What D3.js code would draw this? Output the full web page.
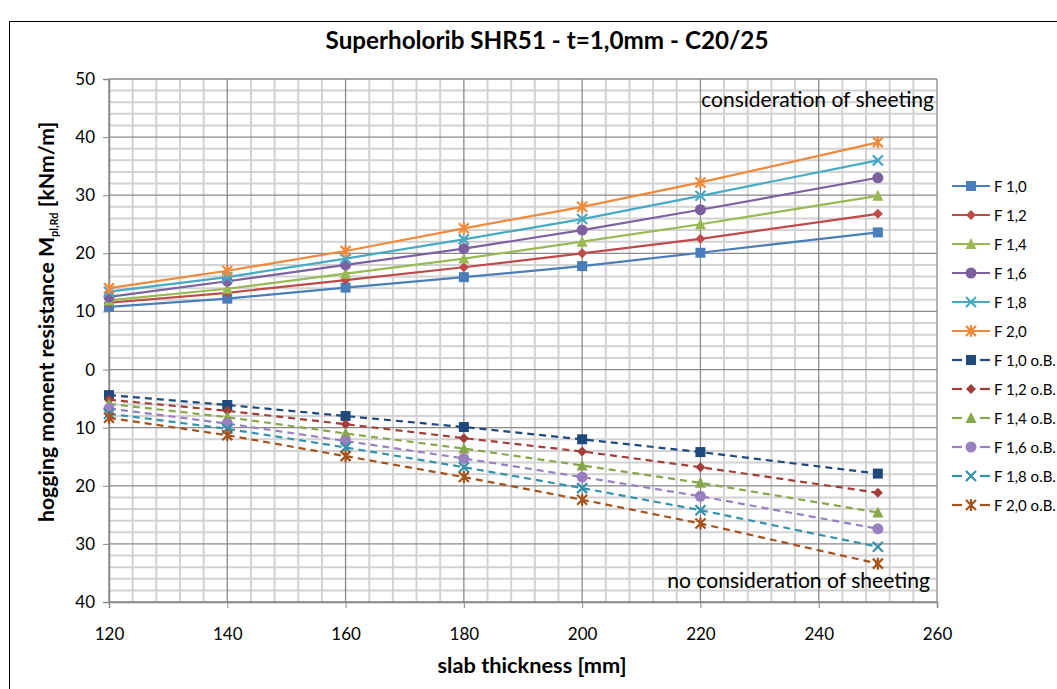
<!DOCTYPE html>
<html><head><meta charset="utf-8">
<script src="https://cdn.jsdelivr.net/npm/d3@7"></script>
<style>body{margin:0;background:#fff}svg{display:block;font-family:Lato,"Open Sans",sans-serif}</style>
</head><body>
<svg id="c" width="1057" height="689"></svg>
<script>
const thickness = [120, 140, 160, 180, 200, 220, 250];
const xTicks = [120, 140, 160, 180, 200, 220, 240, 260];
const yTicks = [-40, -30, -20, -10, 0, 10, 20, 30, 40, 50];
const seriesNames = ["F 1,0","F 1,2","F 1,4","F 1,6","F 1,8","F 2,0",
  "F 1,0 o.B.","F 1,2 o.B.","F 1,4 o.B.","F 1,6 o.B.","F 1,8 o.B.","F 2,0 o.B."];
const F10 = [10.8, 12.2, 14.1, 15.9, 17.8, 20.1, 23.6];
const F12 = [11.5, 13.2, 15.4, 17.6, 20.0, 22.5, 26.8];
const F14 = [11.9, 13.9, 16.5, 19.1, 22.0, 25.0, 29.9];
const F16 = [12.5, 15.2, 18.0, 20.8, 24.0, 27.5, 33.0];
const F18 = [13.4, 15.9, 19.1, 22.4, 25.9, 29.9, 36.0];
const F20 = [14.0, 17.0, 20.4, 24.3, 28.0, 32.2, 39.1];
const F10oB = [-4.4, -6.1, -8.0, -9.9, -12.0, -14.2, -17.9];
const F12oB = [-5.2, -7.1, -9.4, -11.8, -14.1, -16.8, -21.2];
const F14oB = [-5.9, -8.2, -11.0, -13.6, -16.5, -19.5, -24.6];
const F16oB = [-6.7, -9.3, -12.3, -15.3, -18.5, -21.8, -27.4];
const F18oB = [-7.6, -10.2, -13.4, -16.8, -20.4, -24.2, -30.5];
const F20oB = [-8.3, -11.3, -14.9, -18.5, -22.4, -26.5, -33.4];
const seriesValues = [F10,F12,F14,F16,F18,F20,F10oB,F12oB,F14oB,F16oB,F18oB,F20oB];
const colors = ["#4a7ebb","#be4b48","#98b954","#7d60a0","#46aac5","#f0893a",
  "#1f497d","#a33d3a","#86a84a","#9a7fc0","#3291ab","#a5521b"];
const shapes = ["square","diamond","triangle","circle","x","star",
  "square","diamond","triangle","circle","x","star"];

const svg = d3.select("#c");
const L=109, R=937, T=79, B=602;
const x = d3.scaleLinear().domain([120,260]).range([L,R]);
const y = d3.scaleLinear().domain([-40,50]).range([B,T]);

function fit(sel, w){ const n=sel.node(); const cur=n.getComputedTextLength(); const fs=parseFloat(sel.attr("font-size")); sel.attr("font-size", fs*w/cur); }

// outer border
svg.append("rect").attr("x",9.5).attr("y",21.5).attr("width",1060).attr("height",700)
  .attr("fill","none").attr("stroke","#000").attr("stroke-width",1);

// grid
const g = svg.append("g");
d3.range(120,261,4).forEach(v=>{ if(v%20) g.append("line").attr("x1",x(v)).attr("x2",x(v)).attr("y1",T).attr("y2",B).attr("stroke","#d2d2d2").attr("stroke-width",2);});
d3.range(-40,51,2).forEach(v=>{ if(v%10) g.append("line").attr("y1",y(v)).attr("y2",y(v)).attr("x1",L).attr("x2",R).attr("stroke","#d2d2d2").attr("stroke-width",2);});
xTicks.forEach(v=>g.append("line").attr("x1",x(v)).attr("x2",x(v)).attr("y1",T).attr("y2",B).attr("stroke","#8a8a8a").attr("stroke-width",1.3));
yTicks.forEach(v=>g.append("line").attr("y1",y(v)).attr("y2",y(v)).attr("x1",L).attr("x2",R).attr("stroke","#8a8a8a").attr("stroke-width",1.3));

// axes
const xa = svg.append("g").attr("transform",`translate(0,${B})`)
  .call(d3.axisBottom(x).tickValues(xTicks).tickSize(6).tickPadding(20).tickFormat(d3.format("d")));
const ya = svg.append("g").attr("transform",`translate(${L},0)`)
  .call(d3.axisLeft(y).tickValues(yTicks).tickSize(6).tickPadding(8).tickFormat(d=>Math.abs(d)));
[xa,ya].forEach(a=>{a.select(".domain").attr("stroke","#868686").attr("stroke-width",1.5);
  a.selectAll(".tick line").attr("stroke","#868686");
  a.selectAll("text").attr("font-family","Lato").attr("font-size",17).attr("fill","#000");});

// symbols
function marker(sel, shape, color){
  const s=5;
  if(shape==="square") sel.append("rect").attr("x",-s).attr("y",-s).attr("width",2*s).attr("height",2*s).attr("fill",color);
  else if(shape==="diamond") sel.append("path").attr("d",`M0,${-s}L${s},0L0,${s}L${-s},0Z`).attr("fill",color);
  else if(shape==="triangle") sel.append("path").attr("d",`M0,${-s-1}L${s+0.5},${s}L${-s-0.5},${s}Z`).attr("fill",color);
  else if(shape==="circle") sel.append("circle").attr("r",s+0.5).attr("fill",color);
  else if(shape==="x") sel.append("path").attr("d",`M${-s},${-s}L${s},${s}M${-s},${s}L${s},${-s}`).attr("stroke",color).attr("stroke-width",2.2);
  else if(shape==="star") sel.append("path").attr("d",`M${-s},${-s}L${s},${s}M${-s},${s}L${s},${-s}M0,${-s-1}L0,${s+1}`).attr("stroke",color).attr("stroke-width",2.2);
}

const line = d3.line().x((d,i)=>x(thickness[i])).y(d=>y(d));
seriesValues.forEach((vals,k)=>{
  const dashed = k>=6;
  svg.append("path").attr("d",line(vals)).attr("fill","none").attr("stroke",colors[k])
    .attr("stroke-width",2.2).attr("stroke-dasharray",dashed?"7,5":null);
  vals.forEach((v,i)=>{ marker(svg.append("g").attr("transform",`translate(${x(thickness[i])},${y(v)})`), shapes[k], colors[k]); });
});

// legend
const lg = svg.append("g");
seriesNames.forEach((n,k)=>{
  const yy = 186 + k*29;
  const it = lg.append("g").attr("transform",`translate(952,${yy})`);
  if(k<6) it.append("line").attr("x1",0).attr("x2",38).attr("stroke",colors[k]).attr("stroke-width",2.2);
  else { it.append("line").attr("x1",0).attr("x2",10).attr("stroke",colors[k]).attr("stroke-width",2.2);
         it.append("line").attr("x1",28).attr("x2",38).attr("stroke",colors[k]).attr("stroke-width",2.2); }
  marker(it.append("g").attr("transform","translate(19,0)"), shapes[k], colors[k]);
  it.append("text").attr("x",42).attr("y",5.5).attr("font-size",15).attr("font-family","Lato").text(n);
});

// annotations
const a1 = svg.append("text").attr("x",934).attr("y",107).attr("text-anchor","end").attr("font-size",18).text("consideration  of sheeting");
fit(a1,233);
const a2 = svg.append("text").attr("x",930).attr("y",588).attr("text-anchor","end").attr("font-size",18).text("no consideration  of sheeting");
fit(a2,263);

// title
const t = svg.append("text").attr("x",547).attr("y",49).attr("text-anchor","middle").attr("font-weight","bold").attr("font-size",20).text("Superholorib SHR51 - t=1,0mm - C20/25");
fit(t,443);

// x title
const xt = svg.append("text").attr("x",532).attr("y",673).attr("text-anchor","middle").attr("font-weight","bold").attr("font-size",18).text("slab thickness [mm]");
fit(xt,189);

// y title
const yt = svg.append("text").attr("transform","translate(54,322) rotate(-90)").attr("text-anchor","middle").attr("font-weight","bold").attr("font-size",18);
yt.append("tspan").text("hogging moment resistance  M");
yt.append("tspan").attr("font-size",11).attr("dy",4).text("pl,Rd");
yt.append("tspan").attr("dy",-4).text("  [kNm/m]");
fit(yt,405);
</script>
</body></html>
